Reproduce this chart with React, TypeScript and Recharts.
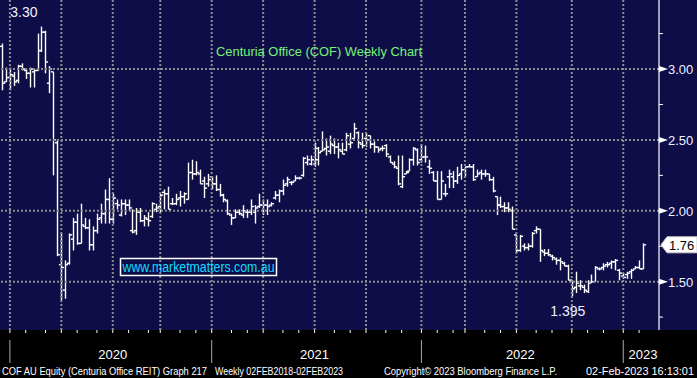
import React from 'react';
import { ComposedChart, Bar, XAxis, YAxis, ReferenceLine, ReferenceDot } from 'recharts';

// Weekly OHLC, Centuria Office (COF), Dec-2019 .. Feb-2023
const opens = [3.16,2.91,2.94,2.95,2.92,3.02,2.99,2.97,2.98,2.99,3.13,3.26,2.90,2.98,2.48,1.62,1.44,1.63,1.80,1.92,1.77,1.89,1.88,1.76,1.86,1.95,1.98,2.08,1.94,2.05,1.97,2.05,2.04,1.86,1.86,1.99,1.93,1.94,1.96,2.01,2.03,2.13,2.12,2.05,2.05,2.09,2.10,2.08,2.27,2.26,2.26,2.21,2.19,2.24,2.19,2.15,2.11,2.07,1.97,1.95,1.99,1.97,1.99,1.99,1.99,2.03,2.04,2.04,2.04,2.09,2.11,2.14,2.19,2.20,2.21,2.23,2.25,2.34,2.33,2.33,2.36,2.42,2.44,2.42,2.46,2.45,2.42,2.43,2.47,2.51,2.55,2.47,2.51,2.53,2.47,2.45,2.44,2.46,2.38,2.33,2.30,2.17,2.26,2.28,2.36,2.43,2.36,2.38,2.31,2.27,2.21,2.08,2.12,2.24,2.24,2.21,2.26,2.29,2.31,2.31,2.24,2.27,2.26,2.26,2.22,2.10,2.04,2.03,2.02,2.00,1.83,1.72,1.75,1.74,1.75,1.86,1.87,1.71,1.70,1.68,1.66,1.65,1.63,1.61,1.51,1.46,1.47,1.46,1.43,1.50,1.50,1.59,1.60,1.62,1.63,1.64,1.58,1.54,1.55,1.57,1.59,1.60,1.59];
const highs = [3.18,3.01,3.01,2.98,3.03,3.04,3.00,3.01,3.00,3.25,3.30,3.27,3.02,2.98,2.50,1.84,1.65,1.84,1.95,1.98,2.05,1.95,1.94,1.89,1.98,2.05,2.15,2.23,2.12,2.08,2.08,2.08,2.08,2.01,2.02,2.02,1.97,1.99,2.06,2.05,2.12,2.15,2.17,2.09,2.12,2.14,2.13,2.34,2.36,2.35,2.29,2.24,2.26,2.24,2.25,2.19,2.12,2.08,1.98,2.01,2.01,2.04,2.01,2.08,2.04,2.12,2.08,2.08,2.06,2.14,2.15,2.22,2.24,2.21,2.25,2.24,2.38,2.39,2.39,2.48,2.45,2.56,2.51,2.53,2.51,2.48,2.48,2.55,2.55,2.62,2.56,2.55,2.55,2.53,2.49,2.45,2.46,2.47,2.39,2.35,2.39,2.39,2.28,2.37,2.45,2.44,2.47,2.46,2.36,2.28,2.28,2.28,2.19,2.29,2.28,2.31,2.33,2.31,2.33,2.33,2.29,2.29,2.29,2.26,2.24,2.10,2.10,2.06,2.06,2.03,1.83,1.83,1.77,1.77,1.85,1.89,1.87,1.73,1.73,1.69,1.67,1.67,1.64,1.62,1.51,1.57,1.51,1.48,1.51,1.55,1.61,1.60,1.63,1.64,1.65,1.66,1.59,1.56,1.57,1.59,1.61,1.65,1.77];
const lows = [2.85,2.91,2.85,2.88,2.90,2.99,2.93,2.87,2.87,2.99,3.12,2.97,2.83,2.25,1.68,1.37,1.38,1.62,1.72,1.76,1.77,1.87,1.72,1.72,1.84,1.91,1.91,1.91,1.91,2.01,1.96,1.97,2.00,1.84,1.83,1.92,1.89,1.89,1.95,1.99,1.99,2.01,2.01,2.04,2.04,2.03,2.05,2.08,2.22,2.25,2.19,2.09,2.17,2.15,2.14,2.10,2.06,1.97,1.90,1.95,1.97,1.95,1.95,1.97,1.91,2.02,1.97,1.97,2.03,2.08,2.06,2.11,2.17,2.18,2.21,2.22,2.24,2.32,2.32,2.31,2.32,2.42,2.39,2.40,2.40,2.37,2.40,2.42,2.44,2.51,2.44,2.44,2.45,2.44,2.41,2.41,2.42,2.38,2.34,2.30,2.18,2.16,2.26,2.28,2.32,2.32,2.34,2.34,2.26,2.21,2.08,2.08,2.10,2.16,2.16,2.19,2.22,2.24,2.31,2.21,2.24,2.22,2.24,2.21,2.13,1.97,2.02,1.99,1.99,1.87,1.70,1.71,1.72,1.72,1.74,1.84,1.64,1.68,1.68,1.65,1.62,1.58,1.61,1.51,1.395,1.42,1.44,1.42,1.42,1.49,1.50,1.58,1.58,1.60,1.59,1.58,1.51,1.52,1.52,1.52,1.59,1.59,1.59];
const closes = [2.90,2.94,2.96,2.91,3.02,3.00,2.97,3.00,2.99,3.13,3.26,3.05,3.00,2.50,1.69,1.60,1.62,1.83,1.92,1.77,1.90,1.88,1.76,1.86,1.94,1.98,2.08,1.94,2.09,2.04,2.05,2.04,2.02,1.85,1.99,1.93,1.95,1.93,2.05,2.02,2.11,2.12,2.01,2.05,2.08,2.10,2.12,2.27,2.26,2.27,2.19,2.16,2.22,2.19,2.15,2.11,2.08,1.98,1.95,1.99,1.98,2.00,1.99,2.03,2.02,2.04,2.04,2.03,2.05,2.11,2.14,2.18,2.22,2.20,2.23,2.23,2.37,2.36,2.36,2.44,2.41,2.43,2.45,2.47,2.45,2.43,2.40,2.53,2.48,2.58,2.48,2.46,2.50,2.47,2.45,2.43,2.44,2.40,2.34,2.31,2.19,2.24,2.27,2.36,2.44,2.34,2.38,2.38,2.30,2.21,2.08,2.21,2.12,2.26,2.21,2.25,2.29,2.31,2.31,2.22,2.26,2.26,2.26,2.22,2.14,2.04,2.03,2.02,2.01,1.87,1.72,1.82,1.74,1.75,1.84,1.87,1.72,1.70,1.69,1.67,1.65,1.64,1.61,1.51,1.45,1.49,1.47,1.44,1.49,1.50,1.60,1.59,1.61,1.62,1.64,1.65,1.56,1.53,1.56,1.58,1.60,1.59,1.76];

// axis / annotation values
const yMajorTicks = [1.5, 2.0, 2.5, 3.0];
const yMinorTicks = [1.25, 1.75, 2.25, 2.75, 3.25];
const yDomain = [1.159, 3.487];
const quarterStarts = [2, 15, 28, 40, 53, 66, 79, 92, 106, 117, 130, 144, 157];
const monthStarts = [2, 6, 11, 15, 19, 24, 28, 32, 37, 40, 45, 49, 53, 58, 62, 66, 71, 75, 79, 84, 88, 92, 97, 101, 106, 110, 114, 117, 122, 126, 130, 135, 139, 144, 148, 152, 157, 161];
const yearStarts = [2, 53, 106, 157];
const yearLabelIdx = [28, 79, 131, 162];
const yearLabels = ['2020', '2021', '2022', '2023'];
const highIdx = 10;
const highLabel = '3.30';
const lowIdx = 144;
const lowLabel = '1.395';
const lastIdx = closes.length - 1;
const lastClose = closes[lastIdx];
const titleText = 'Centuria Office (COF) Weekly Chart';
const siteText = 'www.marketmatters.com.au';
const footerTexts = [
  'COF AU Equity (Centuria Office REIT) Graph 217',
  'Weekly 02FEB2018-02FEB2023',
  'Copyright\u00A9 2023 Bloomberg Finance L.P.',
  '02-Feb-2023 16:13:01',
];

const data = opens.map((o, i) => ({
  i,
  o,
  h: highs[i],
  l: lows[i],
  c: closes[i],
  range: [lows[i], highs[i]],
}));

const FONT = '"Liberation Sans", Arial, sans-serif';
const NAVY = '#0f0d48';
const GRID = '#8c8c8c';
const AXIS_TEXT = '#eef2ff';

const OhlcShape = (props: any) => {
  const { x, y, width, height, payload } = props;
  if (x == null || y == null || !payload) return null;
  const cx = Math.round(x + width / 2) + 0.5;
  const top = Math.min(y, y + height);
  const bot = Math.max(y, y + height);
  const span = payload.h - payload.l;
  const yOf = (v: number) => (span > 0 ? top + ((payload.h - v) / span) * (bot - top) : top);
  const yo = yOf(payload.o);
  const yc = yOf(payload.c);
  return (
    <g stroke="#ffffff" strokeWidth={1.4}>
      <line x1={cx} x2={cx} y1={top} y2={bot} />
      <line x1={cx - 2.6} x2={cx} y1={yo} y2={yo} />
      <line x1={cx} x2={cx + 2.6} y1={yc} y2={yc} />
    </g>
  );
};

const XTick = (props: any) => {
  const { x, y, payload } = props;
  const v = payload.value;
  const els: any[] = [];
  if (monthStarts.includes(v)) {
    els.push(<line key="m" x1={x} x2={x} y1={y} y2={y + 3} stroke="#ffffff" strokeWidth={1} />);
  }
  if (yearStarts.includes(v)) {
    els.push(<line key="y" x1={x} x2={x} y1={y + 10} y2={y + 33} stroke="#a8a8a8" strokeWidth={1} />);
  }
  const k = yearLabelIdx.indexOf(v);
  if (k >= 0) {
    els.push(
      <text key="t" x={x} y={y + 29} textAnchor="middle" fill="#ffffff" fontSize={13} fontFamily={FONT}>
        {yearLabels[k]}
      </text>
    );
  }
  return <g>{els}</g>;
};

const YTick = (props: any) => {
  const { x, y, payload } = props;
  const v = payload.value;
  if (v === lastClose) {
    return (
      <g>
        <polygon
          points={`${x + 2},${y} ${x + 8},${y - 8} ${x + 38},${y - 8} ${x + 38},${y + 8} ${x + 8},${y + 8}`}
          fill="#ffffff"
          stroke="#cfcfcf"
        />
        <text x={x + 10} y={y + 5} fill="#000000" fontSize={13} fontFamily={FONT}>
          {lastClose.toFixed(2)}
        </text>
      </g>
    );
  }
  if (yMajorTicks.includes(v)) {
    return (
      <g>
        <polygon points={`${x},${y - 3} ${x + 9},${y} ${x},${y + 3}`} fill="#ffffff" />
        <text x={x + 9} y={y + 5} fill={AXIS_TEXT} fontSize={13} fontFamily={FONT}>
          {v.toFixed(2)}
        </text>
      </g>
    );
  }
  return <line x1={x} x2={x + 4} y1={y} y2={y} stroke="#ffffff" strokeWidth={1} />;
};

const xTicks = Array.from(new Set([...monthStarts, ...yearStarts, ...yearLabelIdx])).sort((a, b) => a - b);
const yTicks = [...yMinorTicks, ...yMajorTicks, lastClose].sort((a, b) => a - b);

export default function App() {
  return (
    <div
      style={{
        position: 'absolute',
        left: 0,
        top: 0,
        width: 697,
        height: 378,
        background: `linear-gradient(to bottom, ${NAVY} 0px, ${NAVY} 330px, #000000 330px, #000000 378px)`,
        overflow: 'hidden',
        fontFamily: FONT,
      }}
    >
      <ComposedChart width={697} height={378} data={data} margin={{ top: 0, right: 0, bottom: 0, left: 0 }}>
        <XAxis
          dataKey="i"
          type="category"
          ticks={xTicks}
          interval={0}
          tick={<XTick />}
          tickLine={false}
          axisLine={false}
          tickSize={0}
          tickMargin={0}
          height={48}
          padding={{ left: 0, right: 14 }}
        />
        <YAxis
          orientation="right"
          type="number"
          domain={yDomain}
          allowDataOverflow
          ticks={yTicks}
          interval={0}
          tick={<YTick />}
          tickLine={false}
          tickSize={0}
          tickMargin={0}
          axisLine={{ stroke: '#ffffff', strokeWidth: 1.2 }}
          width={38}
        />
        {yMajorTicks.map((v) => (
          <ReferenceLine key={'h' + v} y={v} stroke={GRID} strokeWidth={2} strokeDasharray="2 2" />
        ))}
        {quarterStarts.map((q) => (
          <ReferenceLine key={'v' + q} x={q} stroke={GRID} strokeWidth={2} strokeDasharray="2 2" />
        ))}
        <Bar dataKey="range" shape={OhlcShape} isAnimationActive={false} />
        <ReferenceDot
          x={highIdx}
          y={highs[highIdx]}
          r={0}
          shape={(p: any) => (
            <text x={p.cx - 4} y={p.cy - 10} textAnchor="end" fill={AXIS_TEXT} fontSize={14} fontFamily={FONT}>
              {highLabel}
            </text>
          )}
        />
        <ReferenceDot
          x={lowIdx}
          y={lows[lowIdx]}
          r={0}
          shape={(p: any) => (
            <text x={p.cx - 4} y={p.cy + 19} textAnchor="middle" fill={AXIS_TEXT} fontSize={14} fontFamily={FONT}>
              {lowLabel}
            </text>
          )}
        />
      </ComposedChart>

      <svg width={697} height={378} style={{ position: 'absolute', left: 0, top: 0, pointerEvents: 'none' }}>
        <text x={216} y={56} fontSize={13} fill="#74f574" fontFamily={FONT} textLength={206} lengthAdjust="spacingAndGlyphs">
          {titleText}
        </text>
        <rect x={120.5} y={258.5} width={156} height={17} fill="none" stroke="#ffffff" strokeWidth={1.5} />
        <text x={122.5} y={272} fontSize={14} fill="#10dcff" fontFamily={FONT} textLength={152} lengthAdjust="spacingAndGlyphs">
          {siteText}
        </text>
        <text x={2} y={375} fontSize={10} fill="#ffffff" fontFamily={FONT} textLength={205} lengthAdjust="spacingAndGlyphs">
          {footerTexts[0]}
        </text>
        <text x={215} y={375} fontSize={10} fill="#ffffff" fontFamily={FONT} textLength={128} lengthAdjust="spacingAndGlyphs">
          {footerTexts[1]}
        </text>
        <text x={384} y={375} fontSize={10} fill="#ffffff" fontFamily={FONT} textLength={173} lengthAdjust="spacingAndGlyphs">
          {footerTexts[2]}
        </text>
        <text x={586} y={375} fontSize={10} fill="#ffffff" fontFamily={FONT} textLength={108} lengthAdjust="spacingAndGlyphs">
          {footerTexts[3]}
        </text>
      </svg>
    </div>
  );
}
